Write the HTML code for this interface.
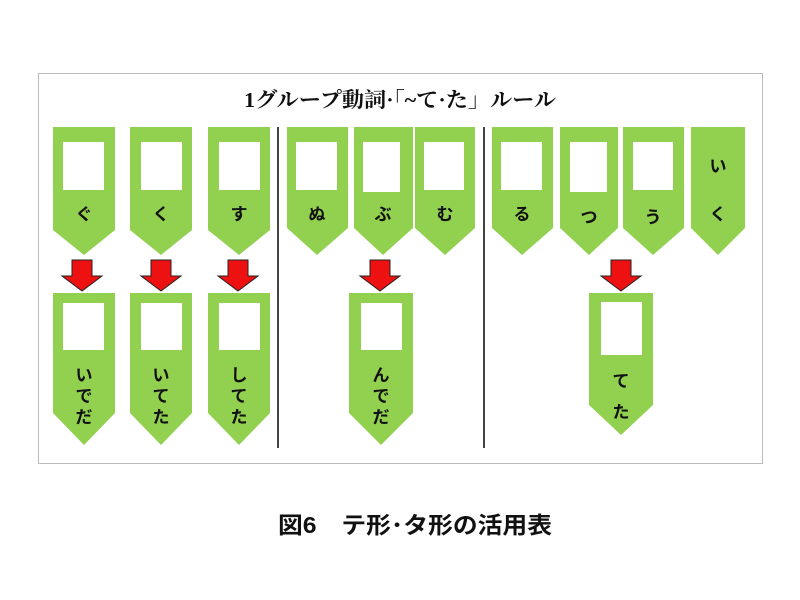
<!DOCTYPE html>
<html><head><meta charset="utf-8"><style>
html,body{margin:0;padding:0;background:#fff;width:800px;height:600px;overflow:hidden}
svg{display:block}
.j{font-family:"Liberation Sans","Noto Sans CJK JP",sans-serif;font-size:17px;font-weight:bold;fill:#111;text-anchor:middle}
</style></head><body>
<svg width="800" height="600" viewBox="0 0 800 600">
<rect x="38.5" y="73.5" width="724" height="390" fill="#fff" stroke="#bbb" stroke-width="1"/>
<text x="400" y="107" text-anchor="middle" font-family="'Liberation Serif','Noto Serif CJK SC',serif" font-size="21" font-weight="bold" fill="#111" textLength="312" lengthAdjust="spacingAndGlyphs">1グループ動詞·「~て·た」ルール</text>
<g fill="#92d050">
<polygon points="53,127 115,127 115,230 84,255 53,230"/>
<polygon points="130,127 192,127 192,230 161,255 130,230"/>
<polygon points="208,127 270,127 270,230 239,255 208,230"/>
<polygon points="287,127 348,127 348,228 317,255 287,228"/>
<polygon points="354,127 413,127 413,228 383,255 354,228"/>
<polygon points="415,127 475,127 475,228 445,255 415,228"/>
<polygon points="492,127 553,127 553,228 522,255 492,228"/>
<polygon points="560,127 618,127 618,228 589,255 560,228"/>
<polygon points="623,127 684,127 684,228 653,255 623,228"/>
<polygon points="691,127 745,127 745,228 718,255 691,228"/>
<polygon points="53,293 115,293 115,413 84,445 53,413"/>
<polygon points="130,293 192,293 192,413 161,445 130,413"/>
<polygon points="208,293 270,293 270,413 239,445 208,413"/>
<polygon points="349,293 413,293 413,413 381,445 349,413"/>
<polygon points="589,293 653,293 653,405 621,435 589,405"/>
</g>
<g fill="#fff">
<rect x="63" y="142" width="41" height="48"/>
<rect x="141" y="142" width="41" height="48"/>
<rect x="219" y="142" width="41" height="48"/>
<rect x="296" y="142" width="41" height="48"/>
<rect x="363" y="142" width="37" height="50"/>
<rect x="424" y="142" width="40" height="48"/>
<rect x="501" y="142" width="41" height="48"/>
<rect x="570" y="142" width="37" height="50"/>
<rect x="633" y="142" width="40" height="48"/>
<rect x="63" y="303" width="41" height="47"/>
<rect x="141" y="303" width="41" height="47"/>
<rect x="219" y="303" width="41" height="47"/>
<rect x="361" y="303" width="41" height="47"/>
<rect x="601" y="302" width="41" height="53"/>
</g>
<g class="j">
<text x="84" y="220" class="j">ぐ</text>
<text x="161" y="220" class="j">く</text>
<text x="239" y="220" class="j">す</text>
<text x="317" y="220" class="j">ぬ</text>
<text x="383" y="220" class="j">ぶ</text>
<text x="445" y="220" class="j">む</text>
<text x="522" y="220" class="j">る</text>
<text x="589" y="223" class="j">つ</text>
<text x="653" y="223" class="j">う</text>
<text x="718" y="172" class="j">い</text>
<text x="718" y="220" class="j">く</text>
<text x="84" y="381" class="j">い</text><text x="84" y="402" class="j">で</text><text x="84" y="423" class="j">だ</text>
<text x="161" y="381" class="j">い</text><text x="161" y="402" class="j">て</text><text x="161" y="423" class="j">た</text>
<text x="239" y="381" class="j">し</text><text x="239" y="402" class="j">て</text><text x="239" y="423" class="j">た</text>
<text x="381" y="381" class="j">ん</text><text x="381" y="402" class="j">で</text><text x="381" y="423" class="j">だ</text>
<text x="621" y="387" class="j">て</text><text x="621" y="418" class="j">た</text>
</g>
<g fill="#ee1111" stroke="#222" stroke-width="1">
<polygon points="72,260 92,260 92,276 102,276 82,291 62,276 72,276"/>
<polygon points="151,260 171,260 171,276 181,276 161,291 141,276 151,276"/>
<polygon points="228,260 248,260 248,276 258,276 238,291 218,276 228,276"/>
<polygon points="370,260 390,260 390,276 400,276 380,291 360,276 370,276"/>
<polygon points="611,260 631,260 631,276 641,276 621,291 601,276 611,276"/>
</g>
<line x1="278" y1="127" x2="278" y2="448" stroke="#444" stroke-width="2"/>
<line x1="484" y1="127" x2="484" y2="448" stroke="#444" stroke-width="2"/>
<text x="415" y="533" text-anchor="middle" font-family="'Liberation Sans','Noto Sans CJK JP',sans-serif" font-weight="bold" font-size="23" fill="#111" textLength="274" lengthAdjust="spacingAndGlyphs">図6　テ形･タ形の活用表</text>
</svg>
</body></html>
